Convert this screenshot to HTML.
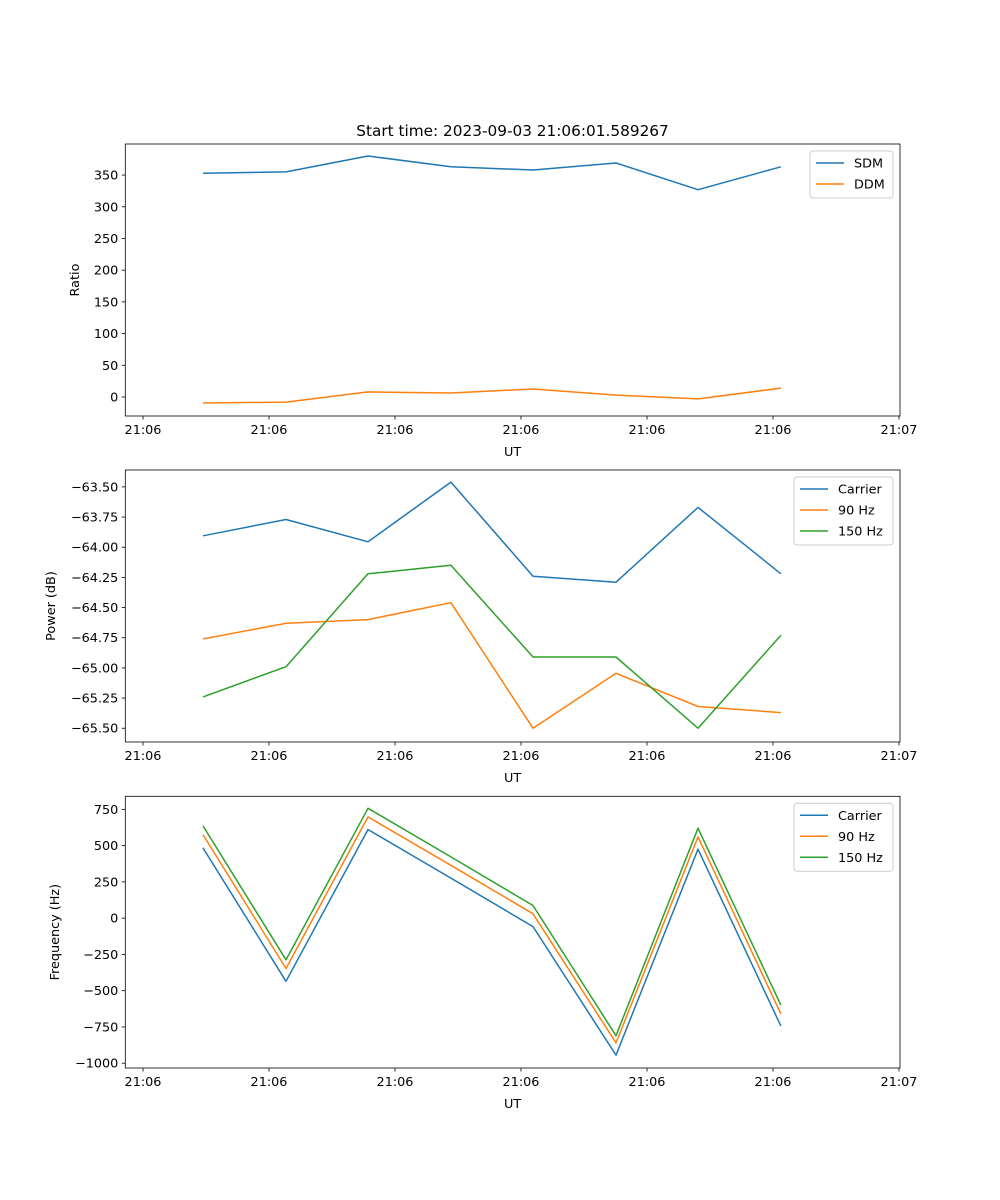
<!DOCTYPE html>
<html><head><meta charset="utf-8">
<style>
html,body{margin:0;padding:0;background:#fff;}
svg{display:block;font-family:"DejaVu Sans","Liberation Sans",sans-serif;}
</style></head>
<body>
<svg id="fig" width="1000" height="1200" viewBox="0 0 1000 1200"></svg>
<script>
const xValues = [0.476, 1.135, 1.786, 2.444, 3.095, 3.754, 4.405, 5.063];
const xTickValues = [0, 1, 2, 3, 4, 5, 6];
const xTickLabels = ["21:06","21:06","21:06","21:06","21:06","21:06","21:07"];

const sdm = [353, 355, 380, 363, 358, 369, 327, 363];
const ddm = [-9.5, -8, 8, 6.3, 12.6, 3, -3, 14];
const ratioTicks = [0, 50, 100, 150, 200, 250, 300, 350];

const powCarrier = [-63.905, -63.77, -63.955, -63.46, -64.24, -64.29, -63.67, -64.22];
const pow90 = [-64.76, -64.63, -64.6, -64.46, -65.5, -65.045, -65.32, -65.37];
const pow150 = [-65.24, -64.99, -64.22, -64.15, -64.91, -64.91, -65.5, -64.73];
const powTicks = [-63.5, -63.75, -64.0, -64.25, -64.5, -64.75, -65.0, -65.25, -65.5];
const powTickLabels = ["\u221263.50","\u221263.75","\u221264.00","\u221264.25","\u221264.50","\u221264.75","\u221265.00","\u221265.25","\u221265.50"];

const freqCarrier = [484, -435, 611, 276, -58, -944, 475, -744];
const freq90 = [576, -347, 698, 364, 30, -860, 560, -660];
const freq150 = [636, -287, 757, 422, 87, -810, 620, -600];
const freqTicks = [750, 500, 250, 0, -250, -500, -750, -1000];
const freqTickLabels = ["750","500","250","0","\u2212250","\u2212500","\u2212750","\u22121000"];

const C1="#1f77b4", C2="#ff7f0e", C3="#2ca02c";
const NS="http://www.w3.org/2000/svg";
const svg=document.getElementById('fig');
function mk(tag,attrs,parent){const e=document.createElementNS(NS,tag);for(const k in attrs)e.setAttribute(k,attrs[k]);(parent||svg).appendChild(e);return e;}

const L=125.3, R=900, FS=12.8;
function xScale(v){return 143+(v)*126;}

function panel(name, top, bottom, yMin, yMax, yTicks, yLabels, yTitle, titleX, series, legend){
  const g=mk('g',{});
  
  
  const ys=v=>bottom-(v-yMin)/(yMax-yMin)*(bottom-top);
  series.forEach(s=>{
    const pts=s.vals.map((v,i)=>xScale(xValues[i]).toFixed(1)+','+ys(v).toFixed(1)).join(' ');
    const p=mk('polyline',{points:pts,fill:'none',stroke:s.color,'stroke-width':1.5,'stroke-linejoin':'round'},g);
    
    
  });
  const fr=mk('rect',{x:L,y:top,width:R-L,height:bottom-top,fill:'none',stroke:'#000','stroke-width':0.8},g);
  
  
  xTickValues.forEach((v,i)=>{
    const x=xScale(v);
    mk('line',{x1:x,x2:x,y1:bottom,y2:bottom+3.5,stroke:'#000','stroke-width':0.8},g);
    const t=mk('text',{x:x,y:bottom+18,'font-size':FS,'text-anchor':'middle',fill:'#000'},g);
    t.textContent=xTickLabels[i];
    
    
  });
  const xt=mk('text',{x:(L+R)/2,y:bottom+40,'font-size':FS,'text-anchor':'middle'},g);
  xt.textContent='UT';
  
  
  yTicks.forEach((v,i)=>{
    const y=ys(v);
    mk('line',{x1:L-3.5,x2:L,y1:y,y2:y,stroke:'#000','stroke-width':0.8},g);
    const t=mk('text',{x:L-7,y:y+4.5,'font-size':FS,'text-anchor':'end'},g);
    t.textContent=yLabels[i];
    
    
  });
  const cy=(top+bottom)/2;
  const yt=mk('text',{x:titleX,y:cy,'font-size':FS,'text-anchor':'middle',transform:`rotate(-90 ${titleX} ${cy})`},g);
  yt.textContent=yTitle;
  
  
  const lg=mk('g',{},g);
  
  
  mk('rect',{x:legend.x,y:top+7,width:legend.w,height:series.length*21+5,rx:3,fill:'#fff','fill-opacity':0.8,stroke:'#ccc','stroke-width':1},lg);
  series.forEach((s,i)=>{
    const yy=top+19+i*21;
    mk('line',{x1:legend.x+6,x2:legend.x+34,y1:yy,y2:yy,stroke:s.color,'stroke-width':1.5},lg);
    const t=mk('text',{x:legend.x+44,y:yy+4.5,'font-size':FS},lg);
    t.textContent=s.label;
    
    
  });
}

const title=mk('text',{x:512.5,y:136,'font-size':15.3,'text-anchor':'middle'});
title.textContent='Start time: 2023-09-03 21:06:01.589267';



panel('ratio',144,416,-30,399,ratioTicks,ratioTicks.map(String),'Ratio',79,
  [{key:'sdm',label:'SDM',vals:sdm,color:C1},{key:'ddm',label:'DDM',vals:ddm,color:C2}],{x:810,w:83});
panel('power',470,742,-65.614,-63.36,powTicks,powTickLabels,'Power (dB)',55,
  [{key:'carrier',label:'Carrier',vals:powCarrier,color:C1},{key:'90hz',label:'90 Hz',vals:pow90,color:C2},{key:'150hz',label:'150 Hz',vals:pow150,color:C3}],{x:794,w:99});
panel('frequency',796.3,1068,-1033,840,freqTicks,freqTickLabels,'Frequency (Hz)',59,
  [{key:'carrier',label:'Carrier',vals:freqCarrier,color:C1},{key:'90hz',label:'90 Hz',vals:freq90,color:C2},{key:'150hz',label:'150 Hz',vals:freq150,color:C3}],{x:794,w:99});
</script>
</body></html>
